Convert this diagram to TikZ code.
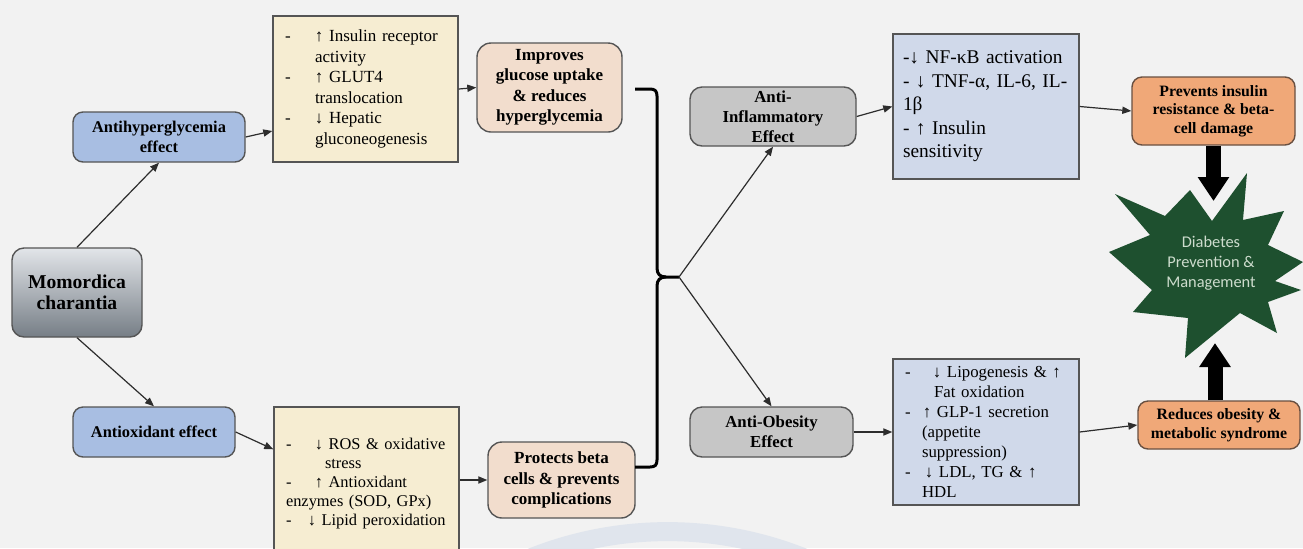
\documentclass[tikz,border=0pt]{standalone}
\usepackage{fontspec}
\setmainfont{Liberation Serif}
\newfontfamily\calib{Carlito}
\usetikzlibrary{arrows.meta,calc}
\definecolor{bgc}{RGB}{242,242,242}
\definecolor{wmc}{RGB}{224,229,237}
\definecolor{bordc}{RGB}{85,85,85}
\definecolor{arrc}{RGB}{45,45,45}
\definecolor{effc}{RGB}{168,190,226}
\definecolor{ylwc}{RGB}{246,237,210}
\definecolor{peachc}{RGB}{242,221,205}
\definecolor{greyc}{RGB}{198,198,198}
\definecolor{bluec}{RGB}{208,217,234}
\definecolor{orc}{RGB}{240,168,120}
\definecolor{orbord}{RGB}{105,80,65}
\definecolor{starc}{RGB}{30,80,47}
\definecolor{startxt}{RGB}{205,220,205}
\newcommand\mydash[1]{\makebox[#1][l]{-}}
\newcommand\myln[1]{\mbox{#1}}
\tikzset{
  box/.style={draw=bordc, line width=0.7pt, inner sep=0pt, align=center},
  momb/.style={box, rounded corners=6pt, minimum width=65pt, minimum height=44.5pt,
    top color={rgb,255:red,226;green,229;blue,233}, bottom color={rgb,255:red,118;green,126;blue,134},
    font=\bfseries\fontsize{9.8}{10.5}\selectfont},
  effb/.style={box, rounded corners=5pt, fill=effc, minimum height=25pt,
    font=\bfseries\fontsize{8.2}{10}\selectfont},
  ylwb/.style={box, fill=ylwc, inner xsep=6pt, text width=80.5pt, align=left},
  peachb/.style={box, rounded corners=7pt, fill=peachc, font=\bfseries\fontsize{8.5}{10.25}\selectfont},
  greyb/.style={box, rounded corners=6pt, fill=greyc, font=\bfseries\fontsize{8.4}{10}\selectfont},
  blueb/.style={box, fill=bluec, align=left},
  orb/.style={box, draw=orbord, rounded corners=5pt, fill=orc, font=\bfseries\fontsize{7.9}{9.3}\selectfont},
  conn/.style={draw=arrc, line width=0.6pt, -{Triangle[length=4.5pt,width=3.6pt]}},
  bigarr/.style={draw=black, line width=7.5pt, -{Triangle[length=12pt,width=15pt]}},
  brc/.style={draw=black, line width=1.5pt, line join=round},
}
\begin{document}
\begin{tikzpicture}[x=0.5pt,y=-0.5pt]
\useasboundingbox (0,0) rectangle (1303,548);
\fill[bgc] (0,0) rectangle (1303,548);
\clip (0,0) rectangle (1303,548);
% faint watermark arc
\draw[wmc, line width=9.5pt] (667.5,898.6) circle[radius=183.5pt];

% nodes
\node[momb] (mom) at (77,292.5) {Momordica\\charantia};
\node[effb, minimum width=86pt] (ahg) at (159,137) {Antihyperglycemia\\effect};
\node[effb, minimum width=81pt] (aox) at (154,432) {Antioxidant effect};

\node[ylwb, minimum height=73pt, font=\fontsize{8.5}{10.25}\selectfont] (y1) at (365.5,89)
  {\myln{\mydash{15pt}↑ Insulin receptor}\\
   \myln{\hspace*{15pt}activity}\\
   \myln{\mydash{15pt}↑ GLUT4}\\
   \myln{\hspace*{15pt}translocation}\\
   \myln{\mydash{15pt}↓ Hepatic}\\
   \myln{\hspace*{15pt}gluconeogenesis}};
\node[ylwb, minimum height=76.5pt, font=\fontsize{8.2}{9.4}\selectfont] (y2) at (366.5,483.5)
  {\myln{\mydash{14.5pt}↓ ROS \& oxidative}\\
   \myln{\hspace*{19.5pt}stress}\\
   \myln{\mydash{14.5pt}↑ Antioxidant}\\
   \myln{enzymes (SOD, GPx)}\\
   \myln{\mydash{11pt}↓ Lipid peroxidation}};

\node[peachb, minimum width=72.5pt, minimum height=44.5pt] (imp) at (549.5,87.5)
  {Improves\\glucose uptake\\\& reduces\\hyperglycemia};
\node[peachb, minimum width=73.5pt, minimum height=38pt] (prot) at (561.5,480)
  {Protects beta\\cells \& prevents\\complications};

\node[greyb, minimum width=83pt, minimum height=29.5pt] (ainf) at (773,116.5)
  {Anti-\\Inflammatory\\Effect};
\node[greyb, minimum width=81.5pt, minimum height=25pt] (aob) at (771.5,432)
  {Anti-Obesity\\Effect};

\node[blueb, inner xsep=5pt, text width=83pt, minimum height=72.5pt, font=\fontsize{9.7}{11.75}\selectfont] (b1) at (986,106.5)
  {\myln{-↓ NF-κB activation}\\
   \myln{- ↓ TNF-α, IL-6, IL-}\\
   \myln{1β}\\
   \myln{- ↑ Insulin}\\
   \myln{sensitivity}};
\node[blueb, inner xsep=6pt, text width=81pt, minimum height=73pt, font=\fontsize{8.4}{10}\selectfont] (b2) at (986,432)
  {\myln{\mydash{14pt}↓ Lipogenesis \& ↑}\\
   \myln{\hspace*{14.5pt}Fat oxidation}\\
   \myln{\mydash{9pt}↑ GLP-1 secretion}\\
   \myln{\hspace*{8.5pt}(appetite}\\
   \myln{\hspace*{8.5pt}suppression)}\\
   \myln{\mydash{10pt}↓ LDL, TG \& ↑}\\
   \myln{\hspace*{8.5pt}HDL}};

\node[orb, minimum width=81.5pt, minimum height=34pt] (prev) at (1213.5,111)
  {Prevents insulin\\resistance \& beta-\\cell damage};
\node[orb, minimum width=81pt, minimum height=24pt] (red) at (1219,425)
  {Reduces obesity \&\\metabolic syndrome};

% starburst
\fill[starc] (1115,194) -- (1165,216) -- (1190,190) -- (1212,221) -- (1247,173) -- (1243,220)
  -- (1284,211) -- (1268,245) -- (1303,262) -- (1275,281) -- (1301,290) -- (1268,302)
  -- (1277,333) -- (1240,313) -- (1185,358) -- (1188,318) -- (1133,312) -- (1152,290)
  -- (1109,252) -- (1150,235) -- cycle;
\node[font=\calib\fontsize{8.2}{10}\selectfont, text=startxt, align=center] (star) at (1211,263)
  {Diabetes\\Prevention \&\\Management};

% connectors
\draw[conn] (mom.north) -- (ahg.south);
\draw[conn] (mom.south) -- (aox.north);
\draw[conn] (ahg.east) -- ([yshift=-21pt]y1.west);
\draw[conn] (aox.east) -- ([yshift=-21.5pt]y2.north west);
\draw[conn] (y1.east) -- (imp.west);
\draw[conn] (y2.east |- prot.west) -- (prot.west);

% brace
\coordinate (bTop) at (635,89);
\coordinate (bBot) at (635,467);
\coordinate (bTip) at (679,277);
\draw[brc] (bTop) -- (650,89) .. controls (655,89) and (657,91) .. (657,96) -- (657,268)
  .. controls (657,274) and (660,277) .. (666,277) -- (bTip);
\draw[brc] (bBot) -- (650,467) .. controls (655,467) and (657,465) .. (657,460) -- (657,286)
  .. controls (657,280) and (660,277) .. (666,277);

\draw[conn] (bTip) -- (ainf.south);
\draw[conn] (bTip) -- (aob.north);
\draw[conn] (ainf.east) -- (b1.west);
\draw[conn] (aob.east) -- (b2.west);
\draw[conn] (b1.east) -- (prev.west);
\draw[conn] (b2.east) -- (red.west);

% big arrows
\coordinate (dTip) at (1213.5,201);
\coordinate (uTip) at (1215,343);
\draw[bigarr] (prev.south) -- (dTip);
\draw[bigarr] (red.north -| uTip) -- (uTip);
\end{tikzpicture}
\end{document}
